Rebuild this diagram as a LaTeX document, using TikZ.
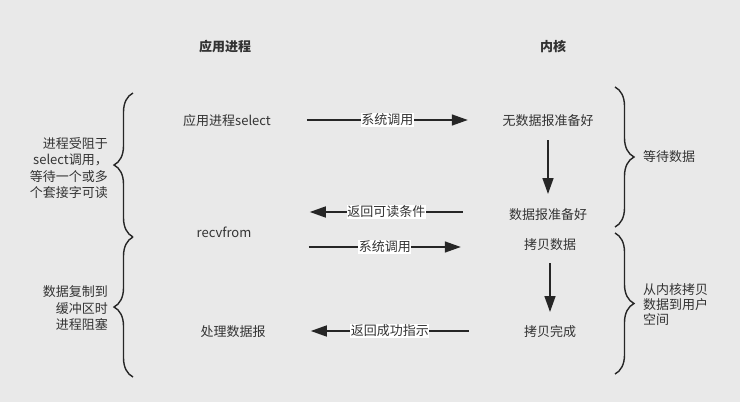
\documentclass[tikz,border=0pt]{standalone}
\usepackage{fontspec}
\setmainfont{Noto Sans CJK SC}
\usepackage{xcolor}
\usepackage{tikz}
\usetikzlibrary{arrows.meta,decorations.pathreplacing}

\definecolor{bgray}{HTML}{E9E9E9}
\definecolor{tgray}{HTML}{333333}
\definecolor{lgray}{HTML}{262626}

\begin{document}
\begin{tikzpicture}[
  x=1pt, y=-1pt,
  every node/.style={
    inner sep=0pt,
    text=tgray,
    font=\fontsize{13}{16.5}\selectfont
  },
  head/.style={font=\fontsize{13}{16.5}\selectfont\bfseries},
  lbl/.style={fill=white, inner sep=0.5pt},
  arr/.style={draw=lgray, line width=1.5pt, -{Triangle[length=16pt,width=11pt]}},
  brc/.style={draw=lgray, line width=1.4pt,
    decorate, decoration={brace, amplitude=19pt}}
]
\useasboundingbox[fill=bgray] (0,0) rectangle (740,402);

% column heads
\node[head] (app) at (225,47) {应用进程};
\node[head] (kern) at (553,46) {内核};

% process side
\node (sel) at (227,121) {应用进程select};
\node (recv) at (224,232) {recvfrom};
\node (proc) at (233,332) {处理数据报};

% kernel side
\node (nodata) at (548,121) {无数据报准备好};
\node (ready) at (548,215) {数据报准备好};
\node (copy) at (550,245) {拷贝数据};
\node (done) at (550,332) {拷贝完成};

% calls and returns
\draw[arr] ([xshift=-195.5pt,yshift=1pt]nodata.west) -- node[lbl]{系统调用} ([xshift=-34.5pt,yshift=1pt]nodata.west);
\draw[arr] ([xshift=-46pt,yshift=3pt]ready.west) -- node[lbl]{返回可读条件} ([xshift=-199pt,yshift=3pt]ready.west);
\draw[arr] ([xshift=-215pt,yshift=-2pt]copy.west) -- node[lbl]{系统调用} ([xshift=-63pt,yshift=-2pt]copy.west);
\draw[arr] ([xshift=-55pt,yshift=1pt]done.west) -- node[lbl]{返回成功指示} ([xshift=-213pt,yshift=1pt]done.west);

% inside the kernel
\draw[arr] ([yshift=-19pt]nodata.center) -- ([yshift=21pt]ready.center);
\draw[arr] ([yshift=-18pt]copy.center) -- ([yshift=20pt]done.center);

% phases
\coordinate (lb1) at (133,237);
\coordinate (lt1) at (133,93);
\coordinate (lb2) at (133,377);
\coordinate (rt1) at (615,87);
\coordinate (rb1) at (615,227);
\coordinate (rt2) at (615,233);
\coordinate (rb2) at (615,374);
\draw[brc] (lb1) -- (lt1);
\draw[brc] (lb2) -- (lb1);
\draw[brc] (rt1) -- (rb1);
\draw[brc] (rt2) -- (rb2);

\node[align=right, anchor=east] (block1) at (108,168) {进程受阻于\\select调用，\\等待一个或多\\个套接字可读};
\node[align=right, anchor=east] (block2) at (108,308.5) {数据复制到\\缓冲区时\\进程阻塞};
\node[anchor=west] (wait) at (643,157) {等待数据};
\node[align=left, anchor=west, font=\fontsize{13}{15}\selectfont] (move) at (643,305) {从内核拷贝\\数据到用户\\空间};
\end{tikzpicture}
\end{document}
